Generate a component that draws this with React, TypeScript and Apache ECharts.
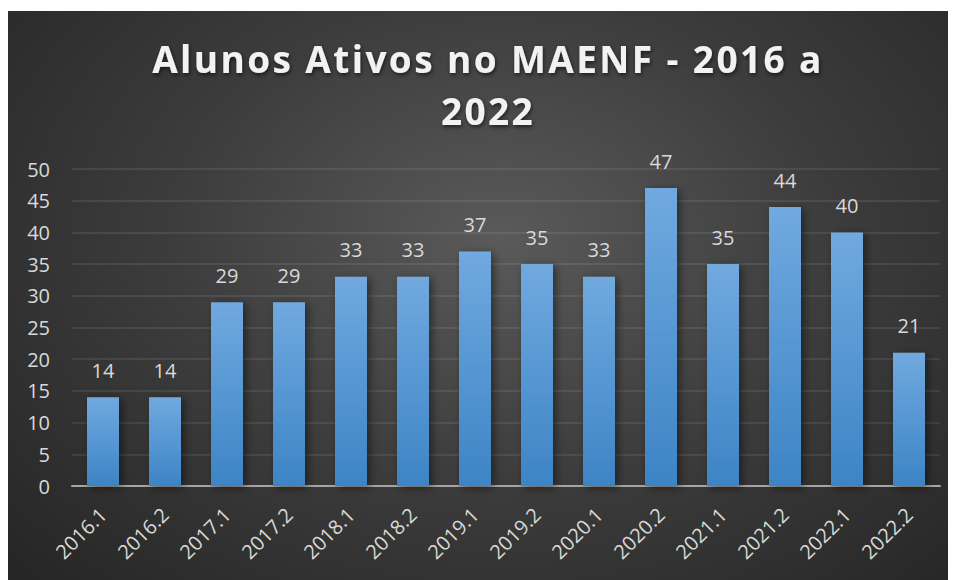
import React, { useEffect, useRef } from "react";
import * as echarts from "echarts";

const titleLine1 = "Alunos Ativos no MAENF - 2016 a";
const titleLine2 = "2022";
const categories = [
  "2016.1", "2016.2", "2017.1", "2017.2", "2018.1", "2018.2", "2019.1",
  "2019.2", "2020.1", "2020.2", "2021.1", "2021.2", "2022.1", "2022.2",
];
const values = [14, 14, 29, 29, 33, 33, 37, 35, 33, 47, 35, 44, 40, 21];
const yMin = 0;
const yMax = 50;
const yInterval = 5;

const FONT = "'Open Sans', Lato, sans-serif";
const LABEL = "#d9d9d9";

export default function App() {
  const ref = useRef<HTMLDivElement>(null);
  useEffect(() => {
    if (!ref.current) return;
    const chart = echarts.init(ref.current, null, { renderer: "svg" });
    chart.setOption({
      animation: false,
      backgroundColor: "transparent",
      title: {
        text: titleLine1 + "\n" + titleLine2,
        left: 480,
        textAlign: "center",
        top: 21,
        padding: 0,
        textStyle: {
          color: "#f2f2f2",
          fontFamily: FONT,
          fontWeight: "bold",
          fontSize: 37,
          lineHeight: 52,
          textShadowColor: "rgba(0,0,0,0.6)",
          textShadowBlur: 4,
          textShadowOffsetX: 1,
          textShadowOffsetY: 2,
        },
      },
      grid: { left: 64, right: 16, top: 158, bottom: 94, containLabel: false },
      xAxis: {
        type: "category",
        data: categories,
        axisLine: { show: true, lineStyle: { color: "#a6a6a6", width: 2 } },
        axisTick: { show: false },
        axisLabel: {
          rotate: 45,
          interval: 0,
          margin: 25,
          color: LABEL,
          fontFamily: FONT,
          fontSize: 20,
        },
      },
      yAxis: {
        type: "value",
        min: yMin,
        max: yMax,
        interval: yInterval,
        axisLine: { show: false },
        axisTick: { show: false },
        axisLabel: { color: LABEL, fontFamily: FONT, fontSize: 20, margin: 22 },
        splitLine: { lineStyle: { color: "rgba(255,255,255,0.11)", width: 1.5 } },
      },
      series: [
        {
          type: "bar",
          data: values,
          barWidth: 32,
          itemStyle: {
            color: {
              type: "linear",
              x: 0, y: 0, x2: 0, y2: 1,
              colorStops: [
                { offset: 0, color: "#70a9df" },
                { offset: 1, color: "#3d84c6" },
              ],
            },
            shadowColor: "rgba(0,0,0,0.45)",
            shadowBlur: 8,
            shadowOffsetX: 3,
            shadowOffsetY: 2,
          },
          label: {
            show: true,
            position: "top",
            distance: 17,
            color: LABEL,
            fontFamily: FONT,
            fontSize: 20,
          },
        },
      ],
    });
    const spaceTitle = () => {
      const root = ref.current;
      if (!root) return;
      root.querySelectorAll("text").forEach((t) => {
        const s = (t.textContent || "").trim();
        if (s === titleLine1 || s === titleLine2) {
          t.setAttribute("letter-spacing", "2.4");
        }
      });
    };
    try {
      chart.getZr().refreshImmediately();
    } catch (e) {}
    spaceTitle();
    chart.on("finished", spaceTitle);
    const raf = requestAnimationFrame(spaceTitle);
    return () => {
      cancelAnimationFrame(raf);
      chart.dispose();
    };
  }, []);
  return (
    <div
      ref={ref}
      style={{
        width: 948,
        height: 569,
        marginTop: 3,
        background:
          "radial-gradient(ellipse 70% 85% at 52% 40%, #5a5a5a 0%, #3c3c3c 50%, #262626 100%)",
      }}
    />
  );
}
